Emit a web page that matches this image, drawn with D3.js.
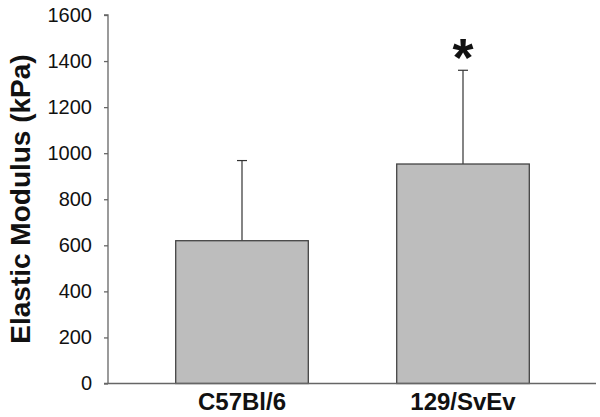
<!DOCTYPE html>
<html>
<head>
<meta charset="utf-8">
<script src="https://cdn.jsdelivr.net/npm/d3@7"></script>
<style>
  body { margin: 0; background: #fff; }
  text { font-family: Arial, "Liberation Sans", sans-serif; }
</style>
</head>
<body>
<svg class="chart"></svg>
<script>
const size = {w: 600, h: 417};

// data
const strains = ['C57Bl/6', '129/SvEv'];
const modulus = [620, 953];
const errorTop = [968, 1360];
const significant = [false, true];
const yTicks = [0, 200, 400, 600, 800, 1000, 1200, 1400, 1600];

const svg = d3.select('svg.chart')
    .attr('width', size.w)
    .attr('height', size.h);

const axisX0 = 108, axisX1 = 596;

const y = d3.scaleLinear()
    .domain([0, 1600])
    .range([383.5, 15]);

const x = d3.scaleBand()
    .domain(strains)
    .range([131.5, 573.5])
    .paddingInner(0.4)
    .paddingOuter(0.2);

const rows = strains.map((s, i) => ({
    name: s, value: modulus[i], top: errorTop[i], star: significant[i]
}));

// error bars (drawn first so bar covers lower part)
const err = svg.append('g');
err.selectAll('line.stem')
    .data(rows)
    .join('line')
    .attr('x1', d => x(d.name) + x.bandwidth() / 2)
    .attr('x2', d => x(d.name) + x.bandwidth() / 2)
    .attr('y1', d => y(d.value))
    .attr('y2', d => y(d.top))
    .attr('stroke', '#333')
    .attr('stroke-width', 1.2);
err.selectAll('line.cap')
    .data(rows)
    .join('line')
    .attr('x1', d => x(d.name) + x.bandwidth() / 2 - 5)
    .attr('x2', d => x(d.name) + x.bandwidth() / 2 + 5)
    .attr('y1', d => y(d.top))
    .attr('y2', d => y(d.top))
    .attr('stroke', '#333')
    .attr('stroke-width', 1.2);

// bars
svg.append('g').selectAll('rect')
    .data(rows)
    .join('rect')
    .attr('x', d => x(d.name))
    .attr('y', d => y(d.value))
    .attr('width', x.bandwidth())
    .attr('height', d => y(0) - y(d.value))
    .attr('fill', '#bdbdbd')
    .attr('stroke', '#444')
    .attr('stroke-width', 1.3);

// significance star
svg.append('g').selectAll('text')
    .data(rows.filter(d => d.star))
    .join('text')
    .attr('x', d => x(d.name) + x.bandwidth() / 2)
    .attr('y', d => y(d.top) + 6)
    .attr('text-anchor', 'middle')
    .style('font-size', '54px')
    .style('font-weight', 'bold')
    .attr('fill', '#111')
    .text('*');

// y axis
const yAxis = d3.axisLeft(y)
    .tickValues(yTicks)
    .tickFormat(d3.format('d'))
    .tickSize(4)
    .tickPadding(12);
const yG = svg.append('g')
    .attr('transform', `translate(${axisX0},0)`)
    .call(yAxis);
yG.select('.domain').attr('stroke', '#666').attr('stroke-width', 1.3)
    .attr('d', `M-4,${y(1600)}H0V${y(0)}`);
yG.selectAll('.tick line').attr('stroke', '#666').attr('stroke-width', 1.3);
yG.selectAll('.tick text')
    .style('font-size', '20px')
    .style('font-family', 'Arial, "Liberation Sans", sans-serif')
    .attr('fill', '#111');

// x axis baseline
svg.append('line')
    .attr('x1', axisX0 - 4)
    .attr('x2', axisX1)
    .attr('y1', y(0))
    .attr('y2', y(0))
    .attr('stroke', '#666')
    .attr('stroke-width', 1.3);

// category labels
svg.append('g').selectAll('text')
    .data(strains)
    .join('text')
    .attr('x', d => x(d) + x.bandwidth() / 2)
    .attr('y', 410)
    .attr('text-anchor', 'middle')
    .style('font-size', '24px')
    .style('font-weight', 'bold')
    .attr('fill', '#111')
    .text(d => d);

// y title
svg.append('text')
    .attr('transform', 'translate(30,199) rotate(-90)')
    .attr('text-anchor', 'middle')
    .style('font-size', '28px')
    .style('font-weight', 'bold')
    .attr('fill', '#111')
    .text('Elastic Modulus (kPa)');
</script>
</body>
</html>
